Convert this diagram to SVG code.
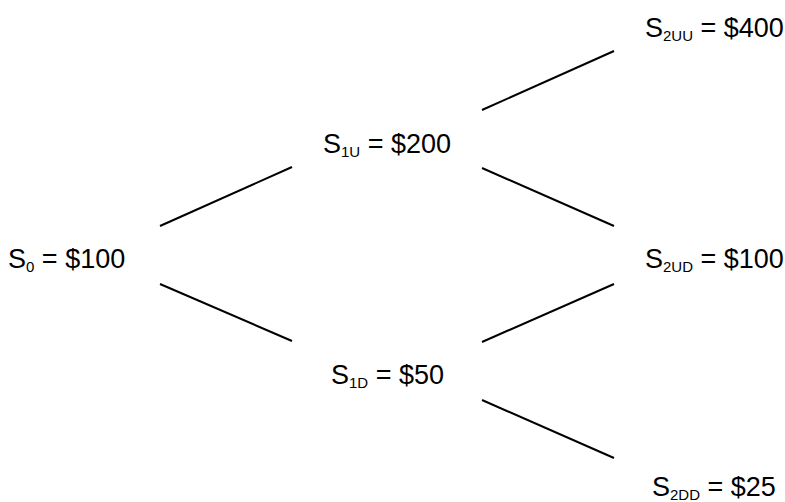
<svg xmlns="http://www.w3.org/2000/svg" width="785" height="502" viewBox="0 0 785 502">
<style>
text{font-family:"Liberation Sans",Arial,sans-serif;font-size:27px;fill:#000}
.sub{font-size:15px}
line{stroke:#000;stroke-width:2}
</style>
<rect width="785" height="502" fill="#fff"/>
<g id="connectors">
<line x1="160" y1="226" x2="292" y2="167"/>
<line x1="160" y1="284" x2="292" y2="341"/>
<line x1="482" y1="110" x2="614" y2="51"/>
<line x1="482" y1="168" x2="614" y2="226"/>
<line x1="482" y1="342" x2="614" y2="284"/>
<line x1="482" y1="400" x2="614" y2="458"/>
</g>
<g id="s0"><text x="8" y="268">S<tspan class="sub" dy="4">0</tspan><tspan dy="-4"> = $100</tspan></text></g>
<g id="s1u"><text x="323" y="153">S<tspan class="sub" dy="4">1U</tspan><tspan dy="-4"> = $200</tspan></text></g>
<g id="s1d"><text x="331" y="384">S<tspan class="sub" dy="4">1D</tspan><tspan dy="-4"> = $50</tspan></text></g>
<g id="s2uu"><text x="645" y="37">S<tspan class="sub" dy="4">2UU</tspan><tspan dy="-4"> = $400</tspan></text></g>
<g id="s2ud"><text x="645" y="268">S<tspan class="sub" dy="4">2UD</tspan><tspan dy="-4"> = $100</tspan></text></g>
<g id="s2dd"><text x="652" y="496">S<tspan class="sub" dy="4">2DD</tspan><tspan dy="-4"> = $25</tspan></text></g>
</svg>
